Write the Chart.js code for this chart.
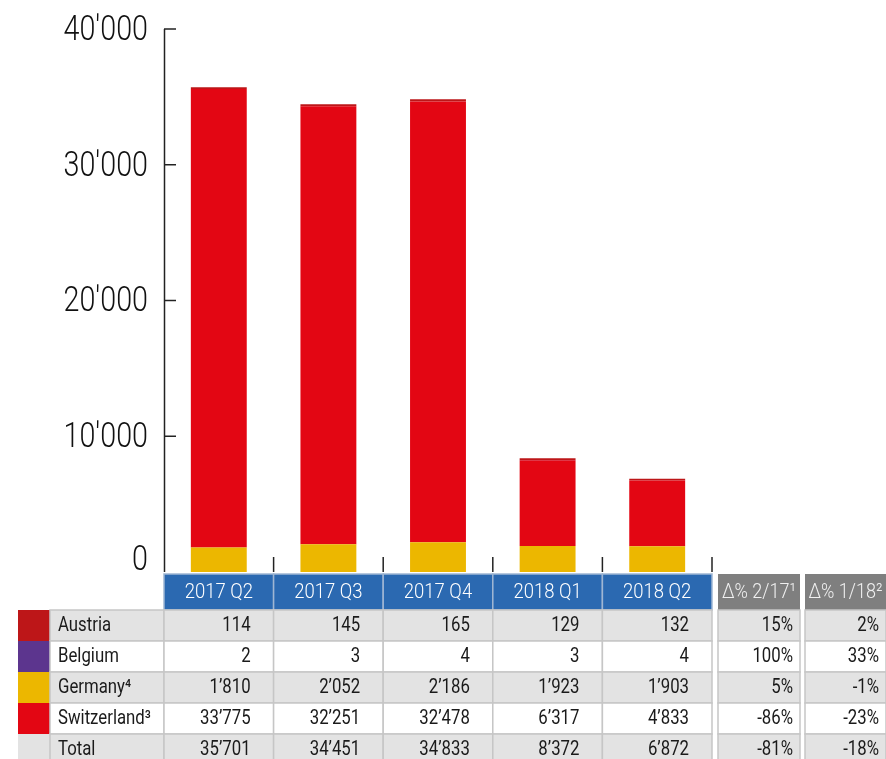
<!DOCTYPE html>
<html>
<head>
<meta charset="utf-8">
<script src="https://cdn.jsdelivr.net/npm/chart.js@4/dist/chart.umd.min.js"></script>
<style>
  html, body { margin: 0; padding: 0; background: #fff; }
  #chart { display: block; }
</style>
</head>
<body>
<canvas id="chart" width="886" height="759"></canvas>
<script>
// Data
const categories = ['2017 Q2', '2017 Q3', '2017 Q4', '2018 Q1', '2018 Q2'];
const austria = [114, 145, 165, 129, 132];
const belgium = [2, 3, 4, 3, 4];
const germany = [1810, 2052, 2186, 1923, 1903];
const switzerland = [33775, 32251, 32478, 6317, 4833];
const total = [35701, 34451, 34833, 8372, 6872];
const deltaHeaders = ['Δ% 2/17¹', 'Δ% 1/18²'];
const deltaYear = ['15%', '100%', '5%', '-86%', '-81%'];
const deltaQuarter = ['2%', '33%', '-1%', '-23%', '-18%'];
const yTicks = [0, 10000, 20000, 30000, 40000];

const FONT = "Roboto, 'Liberation Sans', sans-serif";

const colors = {
    austria: '#bd1618',
    belgium: '#5c358e',
    germany: '#ecb700',
    switzerland: '#e30613',
    blue: '#2b69b1',
    grayHead: '#7f7f7f',
    rowGray: '#e3e3e3',
    border: '#c6c6c6'
};

// table rows: label, swatch colour, values, deltas
const tableRows = [
    { label: 'Austria', color: colors.austria, values: austria, d: 0 },
    { label: 'Belgium', color: colors.belgium, values: belgium, d: 1 },
    { label: 'Germany⁴', color: colors.germany, values: germany, d: 2 },
    { label: 'Switzerland³', color: colors.switzerland, values: switzerland, d: 3 },
    { label: 'Total', color: null, values: total, d: 4 }
];

function fmtTable(v) {
    return String(v).replace(/\B(?=(\d{3})+(?!\d))/g, '\u2019');
}
function fmtAxis(v) {
    return String(v).replace(/\B(?=(\d{3})+(?!\d))/g, "'");
}

// condensed look: squeeze text horizontally around its anchor
function narrowText(ctx, text, x, y, sx) {
    ctx.save();
    ctx.translate(x, y);
    ctx.scale(sx, 1);
    ctx.fillText(text, 0, 0);
    ctx.restore();
}

// Draws axis, ticks and data table using the chart's scales
const axisAndTable = {
    id: 'axisAndTable',
    afterDraw(chart) {
        const ctx = chart.ctx;
        const area = chart.chartArea;
        const xs = chart.scales.x;
        const ys = chart.scales.y;
        const catW = (area.right - area.left) / categories.length;

        ctx.save();

        // y axis line
        ctx.strokeStyle = '#222';
        ctx.lineWidth = 1.5;
        ctx.beginPath();
        ctx.moveTo(area.left + 0.5, ys.getPixelForValue(40000));
        ctx.lineTo(area.left + 0.5, area.bottom);
        ctx.stroke();

        // y ticks + labels
        ctx.font = '300 35px ' + FONT;
        ctx.fillStyle = '#111';
        ctx.textAlign = 'right';
        ctx.textBaseline = 'middle';
        yTicks.forEach(v => {
            const y = ys.getPixelForValue(v);
            if (v > 0) {
                ctx.beginPath();
                ctx.moveTo(area.left, y);
                ctx.lineTo(area.left + 12, y);
                ctx.stroke();
                narrowText(ctx, fmtAxis(v), area.left - 16, y + 2, 0.82);
            } else {
                narrowText(ctx, fmtAxis(v), area.left - 16, y - 11, 0.82);
            }
        });

        // x separators
        for (let i = 1; i <= categories.length; i++) {
            const x = area.left + i * catW;
            ctx.beginPath();
            ctx.moveTo(x, area.bottom - 15);
            ctx.lineTo(x, area.bottom);
            ctx.stroke();
        }

        // table geometry
        const headTop = area.bottom + 2;
        const headH = 36;
        const rowH = 31;
        const swL = 18, swR = 50;
        const d1L = area.right + 6, d1R = 800;
        const d2L = 805, d2R = 886;
        const sx = 0.86;

        ctx.lineWidth = 1.5;

        // header row
        ctx.font = '300 21px ' + FONT;
        ctx.textAlign = 'center';
        categories.forEach((c, i) => {
            const cx = xs.getPixelForValue(i);
            const l = cx - catW / 2;
            ctx.fillStyle = colors.blue;
            ctx.fillRect(l, headTop, catW, headH);
            ctx.strokeStyle = '#9fb6d3';
            ctx.strokeRect(l, headTop, catW, headH);
            ctx.fillStyle = '#fff';
            narrowText(ctx, c, cx, headTop + headH / 2 + 1, 0.88);
        });
        [[d1L, d1R], [d2L, d2R]].forEach((p, k) => {
            ctx.fillStyle = colors.grayHead;
            ctx.fillRect(p[0], headTop, p[1] - p[0], headH);
            ctx.fillStyle = '#f0f0f0';
            narrowText(ctx, deltaHeaders[k], (p[0] + p[1]) / 2, headTop + headH / 2 + 1, 0.86);
        });

        // body rows
        ctx.font = '19.5px ' + FONT;
        tableRows.forEach((r, ri) => {
            const top = headTop + headH + ri * rowH;
            const mid = top + rowH / 2 + 1;
            const bg = ri % 2 === 0 ? colors.rowGray : '#fff';
            ctx.strokeStyle = colors.border;

            // swatch
            ctx.fillStyle = r.color || colors.rowGray;
            ctx.fillRect(swL, top, swR - swL, rowH);
            // label cell
            ctx.fillStyle = bg;
            ctx.fillRect(swR, top, area.left - swR, rowH);
            ctx.strokeRect(swR, top, area.left - swR, rowH);
            ctx.fillStyle = '#1a1a1a';
            ctx.textAlign = 'left';
            narrowText(ctx, r.label, swR + 8, mid, sx);

            // value cells
            ctx.textAlign = 'right';
            r.values.forEach((v, i) => {
                const cx = xs.getPixelForValue(i);
                const l = cx - catW / 2;
                ctx.fillStyle = bg;
                ctx.fillRect(l, top, catW, rowH);
                ctx.strokeRect(l, top, catW, rowH);
                ctx.fillStyle = '#1a1a1a';
                narrowText(ctx, fmtTable(v), l + catW - 23, mid, sx);
            });

            // delta cells
            [[d1L, d1R, deltaYear], [d2L, d2R, deltaQuarter]].forEach(p => {
                ctx.fillStyle = bg;
                ctx.fillRect(p[0], top, p[1] - p[0], rowH);
                ctx.strokeRect(p[0], top, p[1] - p[0], rowH);
                ctx.fillStyle = '#1a1a1a';
                narrowText(ctx, p[2][r.d], p[1] - 7, mid, sx);
            });
        });

        ctx.restore();
    }
};

new Chart(document.getElementById('chart'), {
    type: 'bar',
    data: {
        labels: categories,
        datasets: [
            { label: 'Germany', data: germany, backgroundColor: colors.germany },
            { label: 'Switzerland', data: switzerland, backgroundColor: colors.switzerland },
            { label: 'Belgium', data: belgium, backgroundColor: colors.belgium },
            { label: 'Austria', data: austria, backgroundColor: colors.austria }
        ]
    },
    options: {
        responsive: false,
        animation: false,
        devicePixelRatio: 1,
        layout: {
            padding: { left: 164, right: 174, top: 29, bottom: 187 }
        },
        datasets: {
            bar: {
                categoryPercentage: 1,
                barPercentage: 0.51,
                borderWidth: 0
            }
        },
        plugins: {
            legend: { display: false },
            tooltip: { enabled: false }
        },
        scales: {
            x: {
                stacked: true,
                display: false
            },
            y: {
                stacked: true,
                display: false,
                min: 0,
                max: 40000
            }
        }
    },
    plugins: [axisAndTable]
});
</script>
</body>
</html>
